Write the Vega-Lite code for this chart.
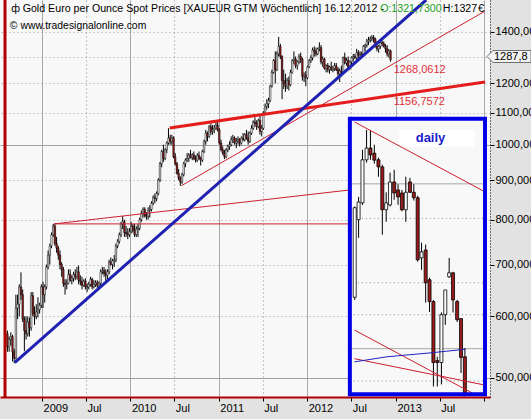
{
  "$schema": "https://vega.github.io/schema/vega-lite/v6.json",
  "width": 490,
  "height": 397,
  "autosize": "none",
  "padding": {"left": 0, "top": 0, "right": 41, "bottom": 22},
  "background": "#e2e2e2",
  "config": {"view": {"stroke": null, "fill": "#f8f8f8"}},
  "datasets": {
    "main": [
      {"d":"2008-08-11","o":570,"h":575,"l":540,"c":548},
      {"d":"2008-08-18","o":548,"h":565,"l":540,"c":560},
      {"d":"2008-08-25","o":560,"h":572,"l":550,"c":565},
      {"d":"2008-09-01","o":565,"h":568,"l":525,"c":540},
      {"d":"2008-09-08","o":540,"h":545,"l":522,"c":530},
      {"d":"2008-09-15","o":530,"h":640,"l":528,"c":615},
      {"d":"2008-09-22","o":615,"h":640,"l":595,"c":622},
      {"d":"2008-09-29","o":622,"h":660,"l":600,"c":655},
      {"d":"2008-10-06","o":655,"h":684,"l":630,"c":640},
      {"d":"2008-10-13","o":640,"h":650,"l":590,"c":595},
      {"d":"2008-10-20","o":595,"h":600,"l":541,"c":575},
      {"d":"2008-10-27","o":575,"h":600,"l":560,"c":570},
      {"d":"2008-11-03","o":570,"h":600,"l":565,"c":590},
      {"d":"2008-11-10","o":590,"h":598,"l":565,"c":580},
      {"d":"2008-11-17","o":580,"h":645,"l":575,"c":638},
      {"d":"2008-11-24","o":638,"h":645,"l":600,"c":605},
      {"d":"2008-12-01","o":605,"h":618,"l":585,"c":600},
      {"d":"2008-12-08","o":600,"h":622,"l":595,"c":608},
      {"d":"2008-12-15","o":608,"h":635,"l":598,"c":612},
      {"d":"2008-12-22","o":612,"h":625,"l":605,"c":620},
      {"d":"2008-12-29","o":620,"h":660,"l":615,"c":655},
      {"d":"2009-01-05","o":655,"h":665,"l":615,"c":640},
      {"d":"2009-01-12","o":640,"h":660,"l":625,"c":655},
      {"d":"2009-01-19","o":655,"h":700,"l":650,"c":695},
      {"d":"2009-01-26","o":695,"h":730,"l":690,"c":720},
      {"d":"2009-02-02","o":720,"h":745,"l":700,"c":740},
      {"d":"2009-02-09","o":740,"h":770,"l":735,"c":765},
      {"d":"2009-02-16","o":765,"h":790,"l":760,"c":785},
      {"d":"2009-02-23","o":785,"h":790,"l":740,"c":745},
      {"d":"2009-03-02","o":745,"h":760,"l":725,"c":735},
      {"d":"2009-03-09","o":735,"h":740,"l":710,"c":720},
      {"d":"2009-03-16","o":720,"h":730,"l":690,"c":700},
      {"d":"2009-03-23","o":700,"h":705,"l":675,"c":690},
      {"d":"2009-03-30","o":690,"h":695,"l":655,"c":662},
      {"d":"2009-04-06","o":662,"h":670,"l":640,"c":660},
      {"d":"2009-04-13","o":660,"h":670,"l":650,"c":662},
      {"d":"2009-04-20","o":662,"h":690,"l":660,"c":680},
      {"d":"2009-04-27","o":680,"h":690,"l":665,"c":668},
      {"d":"2009-05-04","o":668,"h":678,"l":660,"c":672},
      {"d":"2009-05-11","o":672,"h":685,"l":665,"c":680},
      {"d":"2009-05-18","o":680,"h":690,"l":668,"c":675},
      {"d":"2009-05-25","o":675,"h":695,"l":670,"c":685},
      {"d":"2009-06-01","o":685,"h":698,"l":660,"c":668},
      {"d":"2009-06-08","o":668,"h":678,"l":658,"c":665},
      {"d":"2009-06-15","o":665,"h":675,"l":650,"c":658},
      {"d":"2009-06-22","o":658,"h":670,"l":655,"c":666},
      {"d":"2009-06-29","o":666,"h":672,"l":650,"c":655},
      {"d":"2009-07-06","o":655,"h":662,"l":645,"c":655},
      {"d":"2009-07-13","o":655,"h":665,"l":650,"c":660},
      {"d":"2009-07-20","o":660,"h":675,"l":656,"c":670},
      {"d":"2009-07-27","o":670,"h":673,"l":650,"c":655},
      {"d":"2009-08-03","o":655,"h":668,"l":652,"c":660},
      {"d":"2009-08-10","o":660,"h":668,"l":655,"c":663},
      {"d":"2009-08-17","o":663,"h":668,"l":652,"c":658},
      {"d":"2009-08-24","o":658,"h":666,"l":652,"c":662},
      {"d":"2009-08-31","o":662,"h":690,"l":658,"c":685},
      {"d":"2009-09-07","o":685,"h":695,"l":680,"c":688},
      {"d":"2009-09-14","o":688,"h":695,"l":675,"c":682},
      {"d":"2009-09-21","o":682,"h":690,"l":665,"c":678},
      {"d":"2009-09-28","o":678,"h":690,"l":670,"c":685},
      {"d":"2009-10-05","o":685,"h":710,"l":680,"c":705},
      {"d":"2009-10-12","o":705,"h":715,"l":698,"c":700},
      {"d":"2009-10-19","o":700,"h":712,"l":690,"c":708},
      {"d":"2009-10-26","o":708,"h":720,"l":695,"c":710},
      {"d":"2009-11-02","o":710,"h":745,"l":705,"c":740},
      {"d":"2009-11-09","o":740,"h":755,"l":735,"c":750},
      {"d":"2009-11-16","o":750,"h":770,"l":745,"c":765},
      {"d":"2009-11-23","o":765,"h":795,"l":760,"c":790},
      {"d":"2009-11-30","o":790,"h":809,"l":778,"c":795},
      {"d":"2009-12-07","o":795,"h":800,"l":760,"c":770},
      {"d":"2009-12-14","o":770,"h":785,"l":760,"c":768},
      {"d":"2009-12-21","o":768,"h":780,"l":755,"c":765},
      {"d":"2009-12-28","o":765,"h":780,"l":760,"c":772},
      {"d":"2010-01-04","o":772,"h":795,"l":768,"c":785},
      {"d":"2010-01-11","o":785,"h":790,"l":770,"c":775},
      {"d":"2010-01-18","o":775,"h":790,"l":760,"c":765},
      {"d":"2010-01-25","o":765,"h":785,"l":760,"c":778},
      {"d":"2010-02-01","o":778,"h":790,"l":760,"c":780},
      {"d":"2010-02-08","o":780,"h":805,"l":775,"c":800},
      {"d":"2010-02-15","o":800,"h":822,"l":795,"c":815},
      {"d":"2010-02-22","o":815,"h":830,"l":805,"c":825},
      {"d":"2010-03-01","o":825,"h":830,"l":805,"c":810},
      {"d":"2010-03-08","o":810,"h":818,"l":800,"c":808},
      {"d":"2010-03-15","o":808,"h":830,"l":800,"c":822},
      {"d":"2010-03-22","o":822,"h":835,"l":805,"c":825},
      {"d":"2010-03-29","o":825,"h":845,"l":820,"c":840},
      {"d":"2010-04-05","o":840,"h":860,"l":835,"c":855},
      {"d":"2010-04-12","o":855,"h":865,"l":840,"c":852},
      {"d":"2010-04-19","o":852,"h":870,"l":845,"c":865},
      {"d":"2010-04-26","o":865,"h":905,"l":860,"c":900},
      {"d":"2010-05-03","o":900,"h":950,"l":895,"c":945},
      {"d":"2010-05-10","o":945,"h":985,"l":935,"c":980},
      {"d":"2010-05-17","o":980,"h":1000,"l":950,"c":960},
      {"d":"2010-05-24","o":960,"h":990,"l":955,"c":985},
      {"d":"2010-05-31","o":985,"h":1010,"l":975,"c":1005},
      {"d":"2010-06-07","o":1005,"h":1050,"l":1000,"c":1020},
      {"d":"2010-06-14","o":1020,"h":1030,"l":1000,"c":1010},
      {"d":"2010-06-21","o":1010,"h":1030,"l":1000,"c":1020},
      {"d":"2010-06-28","o":1020,"h":1025,"l":960,"c":965},
      {"d":"2010-07-05","o":965,"h":975,"l":940,"c":945},
      {"d":"2010-07-12","o":945,"h":950,"l":915,"c":918},
      {"d":"2010-07-19","o":918,"h":930,"l":900,"c":905},
      {"d":"2010-07-26","o":905,"h":910,"l":885,"c":895},
      {"d":"2010-08-02","o":895,"h":920,"l":890,"c":915},
      {"d":"2010-08-09","o":915,"h":950,"l":910,"c":945},
      {"d":"2010-08-16","o":945,"h":960,"l":935,"c":955},
      {"d":"2010-08-23","o":955,"h":975,"l":950,"c":960},
      {"d":"2010-08-30","o":960,"h":975,"l":950,"c":970},
      {"d":"2010-09-06","o":970,"h":985,"l":960,"c":962},
      {"d":"2010-09-13","o":962,"h":975,"l":955,"c":970},
      {"d":"2010-09-20","o":970,"h":980,"l":955,"c":960},
      {"d":"2010-09-27","o":960,"h":968,"l":948,"c":955},
      {"d":"2010-10-04","o":955,"h":975,"l":950,"c":968},
      {"d":"2010-10-11","o":968,"h":980,"l":955,"c":960},
      {"d":"2010-10-18","o":960,"h":965,"l":940,"c":955},
      {"d":"2010-10-25","o":955,"h":985,"l":950,"c":980},
      {"d":"2010-11-01","o":980,"h":1015,"l":975,"c":1010},
      {"d":"2010-11-08","o":1010,"h":1045,"l":1000,"c":1035},
      {"d":"2010-11-15","o":1035,"h":1040,"l":1010,"c":1025},
      {"d":"2010-11-22","o":1025,"h":1060,"l":1020,"c":1055},
      {"d":"2010-11-29","o":1055,"h":1065,"l":1030,"c":1040},
      {"d":"2010-12-06","o":1040,"h":1060,"l":1030,"c":1045},
      {"d":"2010-12-13","o":1045,"h":1060,"l":1035,"c":1050},
      {"d":"2010-12-20","o":1050,"h":1070,"l":1045,"c":1060},
      {"d":"2010-12-27","o":1060,"h":1070,"l":1040,"c":1045},
      {"d":"2011-01-03","o":1045,"h":1050,"l":1000,"c":1005},
      {"d":"2011-01-10","o":1005,"h":1015,"l":980,"c":985},
      {"d":"2011-01-17","o":985,"h":995,"l":970,"c":975},
      {"d":"2011-01-24","o":975,"h":985,"l":958,"c":965},
      {"d":"2011-01-31","o":965,"h":990,"l":960,"c":985},
      {"d":"2011-02-07","o":985,"h":1000,"l":978,"c":995},
      {"d":"2011-02-14","o":995,"h":1010,"l":985,"c":1000},
      {"d":"2011-02-21","o":1000,"h":1025,"l":995,"c":1015},
      {"d":"2011-02-28","o":1015,"h":1030,"l":1005,"c":1020},
      {"d":"2011-03-07","o":1020,"h":1025,"l":1000,"c":1005},
      {"d":"2011-03-14","o":1005,"h":1020,"l":990,"c":1010},
      {"d":"2011-03-21","o":1010,"h":1025,"l":1000,"c":1015},
      {"d":"2011-03-28","o":1015,"h":1020,"l":995,"c":1005},
      {"d":"2011-04-04","o":1005,"h":1025,"l":1000,"c":1020},
      {"d":"2011-04-11","o":1020,"h":1035,"l":1010,"c":1015},
      {"d":"2011-04-18","o":1015,"h":1035,"l":1010,"c":1030},
      {"d":"2011-04-25","o":1030,"h":1045,"l":1015,"c":1020},
      {"d":"2011-05-02","o":1020,"h":1040,"l":1000,"c":1010},
      {"d":"2011-05-09","o":1010,"h":1040,"l":1005,"c":1035},
      {"d":"2011-05-16","o":1035,"h":1060,"l":1030,"c":1050},
      {"d":"2011-05-23","o":1050,"h":1075,"l":1045,"c":1070},
      {"d":"2011-05-30","o":1070,"h":1085,"l":1055,"c":1065},
      {"d":"2011-06-06","o":1065,"h":1075,"l":1045,"c":1055},
      {"d":"2011-06-13","o":1055,"h":1080,"l":1050,"c":1075},
      {"d":"2011-06-20","o":1075,"h":1090,"l":1030,"c":1040},
      {"d":"2011-06-27","o":1040,"h":1060,"l":1025,"c":1050},
      {"d":"2011-07-04","o":1050,"h":1105,"l":1045,"c":1100},
      {"d":"2011-07-11","o":1100,"h":1130,"l":1095,"c":1120},
      {"d":"2011-07-18","o":1120,"h":1145,"l":1110,"c":1130},
      {"d":"2011-07-25","o":1130,"h":1150,"l":1115,"c":1140},
      {"d":"2011-08-01","o":1140,"h":1195,"l":1135,"c":1190},
      {"d":"2011-08-08","o":1190,"h":1250,"l":1185,"c":1240},
      {"d":"2011-08-15","o":1240,"h":1290,"l":1235,"c":1285},
      {"d":"2011-08-22","o":1285,"h":1320,"l":1200,"c":1250},
      {"d":"2011-08-29","o":1250,"h":1320,"l":1245,"c":1310},
      {"d":"2011-09-05","o":1310,"h":1378,"l":1300,"c":1340},
      {"d":"2011-09-12","o":1340,"h":1350,"l":1290,"c":1300},
      {"d":"2011-09-19","o":1300,"h":1305,"l":1145,"c":1210},
      {"d":"2011-09-26","o":1210,"h":1250,"l":1180,"c":1200},
      {"d":"2011-10-03","o":1200,"h":1235,"l":1170,"c":1190},
      {"d":"2011-10-10","o":1190,"h":1220,"l":1180,"c":1210},
      {"d":"2011-10-17","o":1210,"h":1225,"l":1175,"c":1195},
      {"d":"2011-10-24","o":1195,"h":1250,"l":1190,"c":1240},
      {"d":"2011-10-31","o":1240,"h":1290,"l":1235,"c":1285},
      {"d":"2011-11-07","o":1285,"h":1320,"l":1270,"c":1290},
      {"d":"2011-11-14","o":1290,"h":1300,"l":1255,"c":1265},
      {"d":"2011-11-21","o":1265,"h":1285,"l":1250,"c":1280},
      {"d":"2011-11-28","o":1280,"h":1310,"l":1270,"c":1300},
      {"d":"2011-12-05","o":1300,"h":1315,"l":1275,"c":1290},
      {"d":"2011-12-12","o":1290,"h":1295,"l":1210,"c":1225},
      {"d":"2011-12-19","o":1225,"h":1240,"l":1205,"c":1230},
      {"d":"2011-12-26","o":1230,"h":1245,"l":1190,"c":1220},
      {"d":"2012-01-02","o":1220,"h":1265,"l":1215,"c":1260},
      {"d":"2012-01-09","o":1260,"h":1290,"l":1255,"c":1285},
      {"d":"2012-01-16","o":1285,"h":1305,"l":1275,"c":1295},
      {"d":"2012-01-23","o":1295,"h":1335,"l":1285,"c":1325},
      {"d":"2012-01-30","o":1325,"h":1340,"l":1300,"c":1320},
      {"d":"2012-02-06","o":1320,"h":1335,"l":1300,"c":1310},
      {"d":"2012-02-13","o":1310,"h":1335,"l":1305,"c":1330},
      {"d":"2012-02-20","o":1330,"h":1356,"l":1320,"c":1335},
      {"d":"2012-02-27","o":1335,"h":1345,"l":1270,"c":1280},
      {"d":"2012-03-05","o":1280,"h":1300,"l":1260,"c":1290},
      {"d":"2012-03-12","o":1290,"h":1295,"l":1250,"c":1255},
      {"d":"2012-03-19","o":1255,"h":1270,"l":1240,"c":1265},
      {"d":"2012-03-26","o":1265,"h":1275,"l":1240,"c":1250},
      {"d":"2012-04-02","o":1250,"h":1265,"l":1235,"c":1260},
      {"d":"2012-04-09","o":1260,"h":1280,"l":1245,"c":1250},
      {"d":"2012-04-16","o":1250,"h":1265,"l":1240,"c":1255},
      {"d":"2012-04-23","o":1255,"h":1275,"l":1245,"c":1265},
      {"d":"2012-04-30","o":1265,"h":1275,"l":1245,"c":1250},
      {"d":"2012-05-07","o":1250,"h":1260,"l":1225,"c":1235},
      {"d":"2012-05-14","o":1235,"h":1255,"l":1205,"c":1245},
      {"d":"2012-05-21","o":1245,"h":1265,"l":1225,"c":1240},
      {"d":"2012-05-28","o":1240,"h":1300,"l":1235,"c":1295},
      {"d":"2012-06-04","o":1295,"h":1315,"l":1270,"c":1275},
      {"d":"2012-06-11","o":1275,"h":1295,"l":1265,"c":1285},
      {"d":"2012-06-18","o":1285,"h":1300,"l":1255,"c":1260},
      {"d":"2012-06-25","o":1260,"h":1285,"l":1250,"c":1280},
      {"d":"2012-07-02","o":1280,"h":1300,"l":1270,"c":1295},
      {"d":"2012-07-09","o":1295,"h":1310,"l":1280,"c":1300},
      {"d":"2012-07-16","o":1300,"h":1310,"l":1290,"c":1295},
      {"d":"2012-07-23","o":1295,"h":1330,"l":1285,"c":1315},
      {"d":"2012-07-30","o":1315,"h":1325,"l":1290,"c":1305},
      {"d":"2012-08-06","o":1305,"h":1320,"l":1295,"c":1310},
      {"d":"2012-08-13","o":1310,"h":1320,"l":1300,"c":1305},
      {"d":"2012-08-20","o":1305,"h":1345,"l":1300,"c":1340},
      {"d":"2012-08-27","o":1340,"h":1350,"l":1320,"c":1345},
      {"d":"2012-09-03","o":1345,"h":1370,"l":1335,"c":1360},
      {"d":"2012-09-10","o":1360,"h":1378,"l":1345,"c":1365},
      {"d":"2012-09-17","o":1365,"h":1380,"l":1355,"c":1370},
      {"d":"2012-09-24","o":1370,"h":1385,"l":1360,"c":1375},
      {"d":"2012-10-01","o":1375,"h":1385,"l":1355,"c":1370},
      {"d":"2012-10-08","o":1370,"h":1375,"l":1335,"c":1340},
      {"d":"2012-10-15","o":1340,"h":1360,"l":1320,"c":1330},
      {"d":"2012-10-22","o":1330,"h":1345,"l":1315,"c":1340},
      {"d":"2012-10-29","o":1340,"h":1365,"l":1330,"c":1355},
      {"d":"2012-11-05","o":1355,"h":1370,"l":1340,"c":1350},
      {"d":"2012-11-12","o":1350,"h":1360,"l":1335,"c":1340},
      {"d":"2012-11-19","o":1340,"h":1350,"l":1315,"c":1330},
      {"d":"2012-11-26","o":1330,"h":1345,"l":1300,"c":1310},
      {"d":"2012-12-03","o":1310,"h":1330,"l":1295,"c":1321},
      {"d":"2012-12-10","o":1321.73,"h":1327,"l":1280,"c":1287.8}
    ],
    "inset": [
      {"d":"2012-07-15","o":635,"h":832,"l":630,"c":829},
      {"d":"2012-07-31","o":800,"h":856,"l":758,"c":843},
      {"d":"2012-08-16","o":841,"h":985,"l":836,"c":956},
      {"d":"2012-09-02","o":956,"h":1045,"l":948,"c":990},
      {"d":"2012-09-18","o":990,"h":1045,"l":956,"c":970},
      {"d":"2012-10-04","o":975,"h":1000,"l":945,"c":955},
      {"d":"2012-10-21","o":956,"h":962,"l":909,"c":936},
      {"d":"2012-11-06","o":936,"h":942,"l":765,"c":824},
      {"d":"2012-11-22","o":824,"h":868,"l":795,"c":841},
      {"d":"2012-12-08","o":836,"h":920,"l":832,"c":895},
      {"d":"2012-12-25","o":895,"h":928,"l":849,"c":866},
      {"d":"2013-01-10","o":874,"h":889,"l":836,"c":856},
      {"d":"2013-01-26","o":866,"h":874,"l":820,"c":824},
      {"d":"2013-02-11","o":824,"h":909,"l":795,"c":868},
      {"d":"2013-02-28","o":895,"h":906,"l":866,"c":868},
      {"d":"2013-03-16","o":868,"h":889,"l":847,"c":854},
      {"d":"2013-04-01","o":854,"h":859,"l":706,"c":710},
      {"d":"2013-04-17","o":714,"h":747,"l":689,"c":727},
      {"d":"2013-05-04","o":731,"h":743,"l":625,"c":663},
      {"d":"2013-05-20","o":669,"h":673,"l":608,"c":627},
      {"d":"2013-06-05","o":627,"h":630,"l":487,"c":523},
      {"d":"2013-06-21","o":526,"h":532,"l":487,"c":523},
      {"d":"2013-07-08","o":523,"h":607,"l":490,"c":603},
      {"d":"2013-07-24","o":603,"h":649,"l":585,"c":649},
      {"d":"2013-08-09","o":675,"h":714,"l":673,"c":683},
      {"d":"2013-08-25","o":683,"h":685,"l":607,"c":630},
      {"d":"2013-09-11","o":627,"h":630,"l":590,"c":594},
      {"d":"2013-09-27","o":596,"h":597,"l":507,"c":531},
      {"d":"2013-10-13","o":532,"h":546,"l":473,"c":475}
    ]
  },
  "layer": [
    {
      "data": {"name": "main"},
      "mark": {"type": "rule", "color": "#000000", "strokeWidth": 1},
      "encoding": {
        "x": {"field": "d", "type": "temporal", "title": null,
          "scale": {"domain": [{"year": 2008, "month": 8, "date": 1}, {"year": 2014, "month": 1, "date": 4}], "nice": false},
          "axis": {"title": null, "orient": "bottom", "tickCount": {"interval": "month", "step": 6},
            "labelExpr": "month(datum.value)==0 ? (year(datum.value)>2013 ? '' : timeFormat(datum.value,'%Y')) : 'Jul'",
            "labelAlign": "left", "labelBaseline": "top", "labelPadding": 1, "labelOffset": 1,
            "tickSize": 4, "tickColor": "#000000", "domainColor": "#b00000", "domainWidth": 2,
            "labelFont": "Liberation Sans, Arial, sans-serif", "labelFontSize": 11, "labelColor": "#000000",
            "labelFlush": false, "labelOverlap": false, "grid": true,
            "gridColor": {"condition": {"test": "month(datum.value)==0", "value": "#a8a8a8"}, "value": "#8c8c8c"},
            "gridDash": {"condition": {"test": "month(datum.value)==0", "value": []}, "value": [1, 3]}}},
        "y": {"field": "l", "type": "quantitative", "title": null,
          "scale": {"type": "log", "domain": [472, 1538], "nice": false},
          "axis": {"title": null, "orient": "right", "values": [500, 600, 700, 800, 900, 1000, 1100, 1200, 1300, 1400],
            "labelExpr": "datum.value==1300 ? '' : replace(format(datum.value,'.4f'),'.',',')",
            "labelAlign": "left", "labelBaseline": "middle", "labelPadding": 1, "tickSize": 4, "tickColor": "#000000",
            "domainColor": "#000000", "domainDash": [1, 2],
            "labelFont": "Liberation Sans, Arial, sans-serif", "labelFontSize": 11, "labelColor": "#000000",
            "labelOverlap": false, "labelFlush": false, "grid": true, "gridColor": "#a0a0a0",
            "gridDash": {"condition": {"test": "datum.value==1000 || datum.value==500", "value": []}, "value": [1, 3]}}},
        "y2": {"field": "h"}
      }
    },
    {
      "data": {"name": "main"},
      "mark": {"type": "bar", "width": 1.5, "stroke": "#000000", "strokeWidth": 0.5},
      "encoding": {
        "x": {"field": "d", "type": "temporal"},
        "y": {"field": "o", "type": "quantitative"},
        "y2": {"field": "c"},
        "fill": {"condition": {"test": "datum.c < datum.o", "value": "#9b1b1b"}, "value": "#ffffff"}
      }
    },
    {
      "data": {"values": [{"d1": "2009-02-20", "d2": "2012-06-25", "v": 790}]},
      "mark": {"type": "rule", "color": "#cc2030", "strokeWidth": 1},
      "encoding": {
        "x": {"field": "d1", "type": "temporal"},
        "x2": {"field": "d2"},
        "y": {"field": "v", "type": "quantitative"}
      }
    },
    {
      "data": {"values": [{"d": "2009-02-20", "v": 790}, {"d": "2012-06-25", "v": 874}]},
      "mark": {"type": "line", "color": "#cc2030", "strokeWidth": 1},
      "encoding": {
        "x": {"field": "d", "type": "temporal"},
        "y": {"field": "v", "type": "quantitative"}
      }
    },
    {
      "data": {"values": [{"d": "2010-07-30", "v": 885}, {"d": "2014-01-04", "v": 1488}]},
      "mark": {"type": "line", "color": "#cc2030", "strokeWidth": 1},
      "encoding": {
        "x": {"field": "d", "type": "temporal"},
        "y": {"field": "v", "type": "quantitative"}
      }
    },
    {
      "data": {"values": [{"d": "2010-06-12", "v": 1051}, {"d": "2014-01-04", "v": 1205}]},
      "mark": {"type": "line", "color": "#e41c1c", "strokeWidth": 3},
      "encoding": {
        "x": {"field": "d", "type": "temporal"},
        "y": {"field": "v", "type": "quantitative"}
      }
    },
    {
      "data": {"values": [{"d": "2008-09-10", "v": 523}, {"d": "2013-05-06", "v": 1538}]},
      "mark": {"type": "line", "color": "#1f22b0", "strokeWidth": 3},
      "encoding": {
        "x": {"field": "d", "type": "temporal"},
        "y": {"field": "v", "type": "quantitative"}
      }
    },
    {
      "data": {"values": [{"d": "2008-08-01"}]},
      "mark": {"type": "rule", "color": "#b00000", "strokeWidth": 3},
      "encoding": {
        "x": {"field": "d", "type": "temporal"}
      }
    },
    {
      "data": {"values": [{"d1": "2012-06-25", "d2": "2014-01-04", "v1": 1080, "v2": 476}]},
      "mark": {"type": "rect", "fill": "#f8f8f8"},
      "encoding": {
        "x": {"field": "d1", "type": "temporal"},
        "x2": {"field": "d2"},
        "y": {"field": "v1", "type": "quantitative"},
        "y2": {"field": "v2"}
      }
    },
    {
      "data": {"values": [{"d1": "2012-06-25", "d2": "2014-01-04", "v": 803}, {"d1": "2012-06-25", "d2": "2014-01-04", "v": 663}, {"d1": "2012-06-25", "d2": "2014-01-04", "v": 603}, {"d1": "2012-06-25", "d2": "2014-01-04", "v": 495}]},
      "mark": {"type": "rule", "color": "#8c8c8c", "strokeWidth": 1, "strokeDash": [1, 3]},
      "encoding": {
        "x": {"field": "d1", "type": "temporal"},
        "x2": {"field": "d2"},
        "y": {"field": "v", "type": "quantitative"}
      }
    },
    {
      "data": {"values": [{"d1": "2012-06-25", "d2": "2014-01-04", "v": 890}, {"d1": "2012-06-25", "d2": "2014-01-04", "v": 545}]},
      "mark": {"type": "rule", "color": "#a8a8a8", "strokeWidth": 1},
      "encoding": {
        "x": {"field": "d1", "type": "temporal"},
        "x2": {"field": "d2"},
        "y": {"field": "v", "type": "quantitative"}
      }
    },
    {
      "data": {"values": [{"d1": "2013-01-12", "d2": "2013-11-22", "v1": 1045, "v2": 993}]},
      "mark": {"type": "rect", "fill": "#ffffff"},
      "encoding": {
        "x": {"field": "d1", "type": "temporal"},
        "x2": {"field": "d2"},
        "y": {"field": "v1", "type": "quantitative"},
        "y2": {"field": "v2"}
      }
    },
    {
      "data": {"values": [{"d": "2013-05-24", "v": 1020, "t": "daily"}]},
      "mark": {"type": "text", "font": "Liberation Sans, Arial, sans-serif", "fontSize": 13, "fontWeight": "bold", "color": "#1c1ccc", "align": "center", "baseline": "middle"},
      "encoding": {
        "x": {"field": "d", "type": "temporal"},
        "y": {"field": "v", "type": "quantitative"},
        "text": {"field": "t"}
      }
    },
    {
      "data": {"name": "inset"},
      "mark": {"type": "rule", "color": "#000000", "strokeWidth": 1},
      "encoding": {
        "x": {"field": "d", "type": "temporal"},
        "y": {"field": "l", "type": "quantitative"},
        "y2": {"field": "h"}
      }
    },
    {
      "data": {"name": "inset"},
      "mark": {"type": "bar", "width": 3, "stroke": "#000000", "strokeWidth": 0.8},
      "encoding": {
        "x": {"field": "d", "type": "temporal"},
        "y": {"field": "o", "type": "quantitative"},
        "y2": {"field": "c"},
        "fill": {"condition": {"test": "datum.c < datum.o", "value": "#9b1b1b"}, "value": "#ffffff"}
      }
    },
    {
      "data": {"values": [
        {"id": "r1", "d": "2012-07-14", "v": 1070}, {"id": "r1", "d": "2014-01-04", "v": 869},
        {"id": "r2", "d": "2012-07-14", "v": 576}, {"id": "r2", "d": "2013-12-02", "v": 474},
        {"id": "r3", "d": "2012-07-14", "v": 529}, {"id": "r3", "d": "2014-01-04", "v": 489}
      ]},
      "mark": {"type": "line", "color": "#cc2030", "strokeWidth": 1},
      "encoding": {
        "x": {"field": "d", "type": "temporal"},
        "y": {"field": "v", "type": "quantitative"},
        "detail": {"field": "id"}
      }
    },
    {
      "data": {"values": [{"d": "2012-07-14", "v": 524}, {"d": "2012-11-25", "v": 532}, {"d": "2013-05-18", "v": 538}, {"d": "2013-10-15", "v": 544}]},
      "mark": {"type": "line", "color": "#2222c0", "strokeWidth": 1},
      "encoding": {
        "x": {"field": "d", "type": "temporal"},
        "y": {"field": "v", "type": "quantitative"}
      }
    },
    {
      "data": {"values": [{"d1": "2012-06-25", "d2": "2014-01-04", "v1": 1080, "v2": 476}]},
      "mark": {"type": "rect", "fill": null, "fillOpacity": 0, "stroke": "#0000e6", "strokeWidth": 4},
      "encoding": {
        "x": {"field": "d1", "type": "temporal"},
        "x2": {"field": "d2"},
        "y": {"field": "v1", "type": "quantitative"},
        "y2": {"field": "v2"}
      }
    },
    {
      "data": {"values": [{"d": "2012-12-23", "v": 1249, "t": "1268,0612"}, {"d": "2012-12-23", "v": 1136, "t": "1156,7572"}]},
      "mark": {"type": "text", "font": "Liberation Sans, Arial, sans-serif", "fontSize": 11, "color": "#e0303a", "align": "left", "baseline": "middle"},
      "encoding": {
        "x": {"field": "d", "type": "temporal"},
        "y": {"field": "v", "type": "quantitative"},
        "text": {"field": "t"}
      }
    },
    {
      "data": {"values": [
        {"d": "2008-08-27", "v": 1497, "t": "ф", "k": "b"},
        {"d": "2008-10-13", "v": 1497, "t": "Gold Euro per Ounce Spot Prices [XAUEUR GTM  Wöchentlich] 16.12.2012 -", "k": "b"},
        {"d": "2012-10-28", "v": 1497, "t": "O:1321,7300", "k": "g"},
        {"d": "2013-07-14", "v": 1497, "t": "H:1327", "k": "b"}
      ]},
      "mark": {"type": "text", "font": "Liberation Sans, Arial, sans-serif", "fontSize": 10.65, "align": "left", "baseline": "middle"},
      "encoding": {
        "x": {"field": "d", "type": "temporal"},
        "y": {"field": "v", "type": "quantitative"},
        "text": {"field": "t"},
        "color": {"field": "k", "type": "nominal", "scale": {"domain": ["b", "g"], "range": ["#000000", "#22a022"]}, "legend": null}
      }
    },
    {
      "data": {"values": [{"d": "2008-08-21", "v": 1424, "t": "© www.tradesignalonline.com"}]},
      "mark": {"type": "text", "font": "Liberation Sans, Arial, sans-serif", "fontSize": 10.4, "align": "left", "baseline": "middle", "color": "#000000"},
      "encoding": {
        "x": {"field": "d", "type": "temporal"},
        "y": {"field": "v", "type": "quantitative"},
        "text": {"field": "t"}
      }
    },
    {
      "data": {"values": [{"d": "2013-12-06", "v": 1497, "t": "€"}]},
      "mark": {"type": "text", "font": "Liberation Sans, Arial, sans-serif", "fontSize": 11, "align": "left", "baseline": "middle", "color": "#000000"},
      "encoding": {
        "x": {"field": "d", "type": "temporal"},
        "y": {"field": "v", "type": "quantitative"},
        "text": {"field": "t"}
      }
    },
    {
      "data": {"values": [{"d": "2014-01-04", "v": 1300}]},
      "mark": {"type": "point", "shape": "M0.2,0L0.8,-0.6L4.6,-0.6L4.6,0.6L0.8,0.6Z", "size": 400, "filled": true, "fill": "#f2f2f2", "stroke": "#707070", "strokeWidth": 1, "opacity": 1},
      "encoding": {
        "x": {"field": "d", "type": "temporal"},
        "y": {"field": "v", "type": "quantitative"}
      }
    },
    {
      "data": {"values": [{"d": "2014-01-04", "v": 1300, "t": "1287,8"}]},
      "mark": {"type": "text", "font": "Liberation Sans, Arial, sans-serif", "fontSize": 11, "align": "left", "baseline": "middle", "dx": 9, "color": "#000000"},
      "encoding": {
        "x": {"field": "d", "type": "temporal"},
        "y": {"field": "v", "type": "quantitative"},
        "text": {"field": "t"}
      }
    }
  ]
}
